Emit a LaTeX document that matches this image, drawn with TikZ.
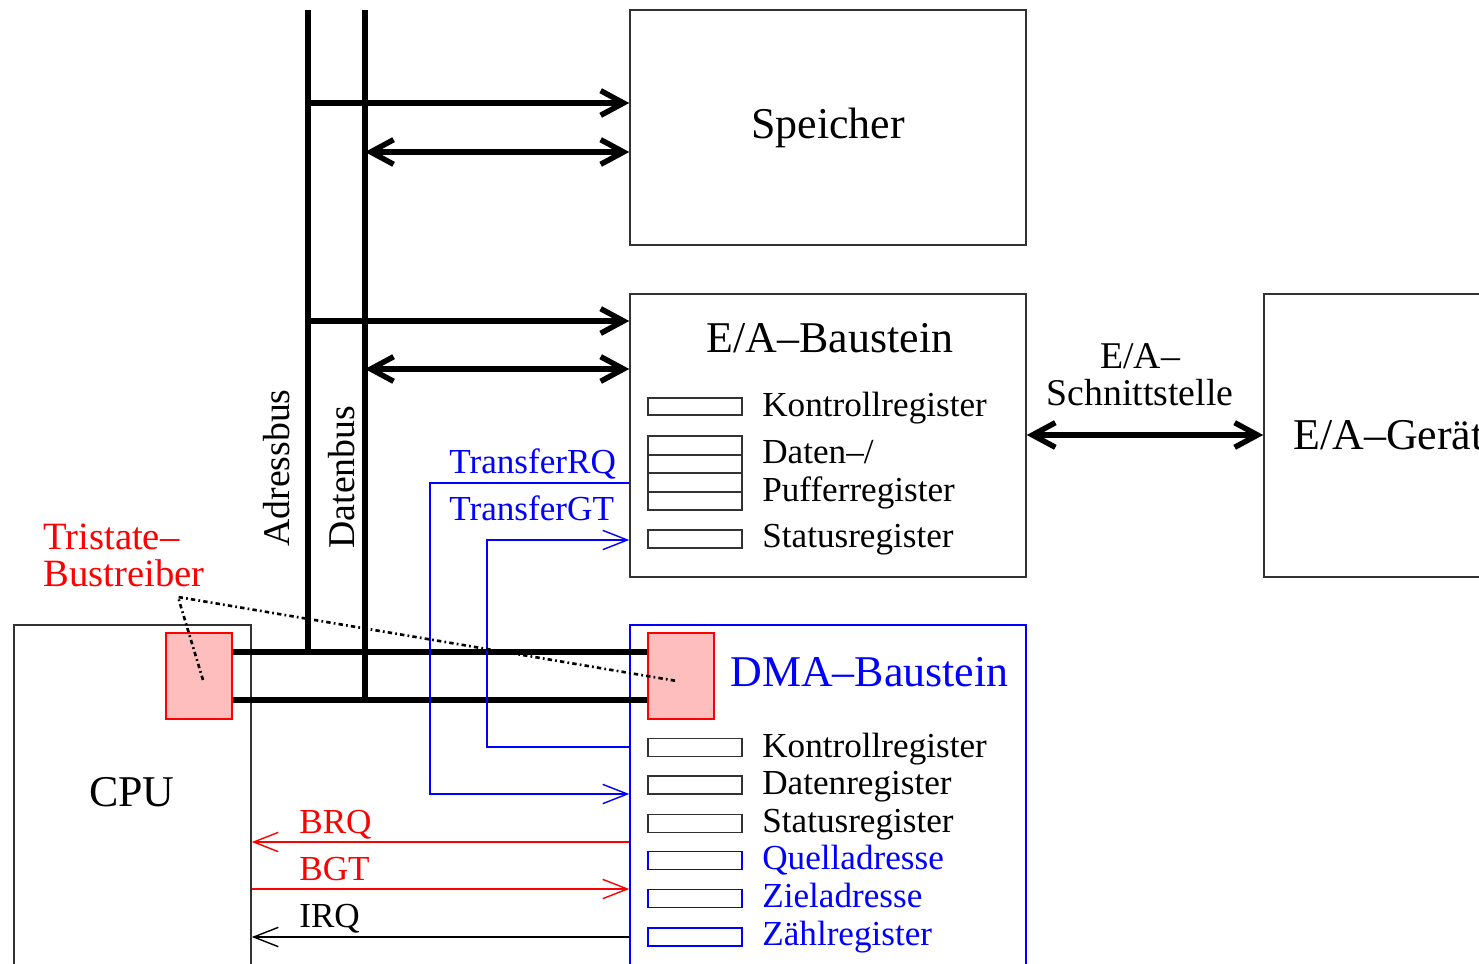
\documentclass[tikz,border=0pt]{standalone}
\usepackage{fontspec}
\setmainfont{Liberation Serif}
\usetikzlibrary{arrows.meta}
\definecolor{pinkfill}{RGB}{255,190,190}
\definecolor{boxline}{RGB}{50,50,50}
\begin{document}
\begin{tikzpicture}[x=0.02cm,y=-0.02cm,
  box/.style={draw=boxline, line width=0.9pt, rectangle, inner sep=0pt},
  bigfont/.style={font=\fontsize{25}{30}\selectfont},
  title/.style={bigfont, inner sep=0pt},
  lbl/.style={font=\fontsize{21.5}{22}\selectfont, inner sep=0pt},
  siglbl/.style={font=\fontsize{20}{22}\selectfont, inner sep=0pt, anchor=base west},
  reglbl/.style={font=\fontsize{20}{22}\selectfont, inner sep=0pt, anchor=base west},
  reg/.style={draw=boxline, line width=1.1pt, rectangle, inner sep=0pt, minimum width=1.88cm, minimum height=0.36cm},
  bluereg/.style={reg, draw=blue},
  tristate/.style={draw=red, fill=pinkfill, line width=0.8pt, rectangle, inner sep=0pt, minimum width=1.32cm, minimum height=1.72cm},
  bus/.style={line width=3.1pt},
  bigtip/.tip={Straight Barb[length=13pt,width=14pt]},
  smalltip/.tip={Straight Barb[length=14pt,width=11pt]},
  sig/.style={line width=0.8pt},
  dotline/.style={line width=1.5pt, dash pattern=on 2.5pt off 1.8pt on 1pt off 1.8pt}
]
\useasboundingbox (0,0) rectangle (1479,963);
\clip (0,0) rectangle (1479,963);

% boxes
\node[box, bigfont, minimum width=7.92cm, minimum height=4.7cm] (spe) at (828,127.5) {Speicher};
\node[box, minimum width=7.92cm, minimum height=5.66cm] (eab) at (828,435.5) {};
\node[title, anchor=base] (eabt) at (830,352) {E/A–Baustein};
\node[box, bigfont, minimum width=4.98cm, minimum height=5.66cm] (eag) at (1388.5,435.5) {E/A–Gerät};
\node[box, draw=blue, minimum width=7.92cm, minimum height=7.5cm] (dma) at (828,812.5) {};
\node[title, anchor=base west, text=blue] (dmat) at (730,686) {DMA–Baustein};
\node[box, minimum width=4.74cm, minimum height=7.5cm] (cpu) at (132.5,812.5) {};
\node[title, anchor=base] (cput) at (132,806) {CPU};

% tristate drivers
\node[tristate] (tri1) at (199,676) {};
\node[tristate] (tri2) at (681,676) {};

% buses
\coordinate (abtop) at (308,10);
\coordinate (dbtop) at (365,10);
\coordinate (ab) at (308,652);
\coordinate (db) at (365,700);
\draw[bus] (abtop) -- (ab);
\draw[bus] (dbtop) -- (db);
\draw[bus] (tri1.east |- ab) -- (tri2.west |- ab);
\draw[bus] (tri1.east |- db) -- (tri2.west |- db);
\node[lbl, rotate=90] (abl) at (277,468) {Adressbus};
\node[lbl, rotate=90] (dbl) at (342,477) {Datenbus};

\coordinate (a1) at (308,103);
\coordinate (d1) at (365,152);
\coordinate (a2) at (308,321);
\coordinate (d2) at (365,369);
\draw[bus, -{bigtip}] (a1) -- (a1 -| spe.west);
\draw[bus, {bigtip}-{bigtip}] (d1) -- (d1 -| spe.west);
\draw[bus, -{bigtip}] (a2) -- (a2 -| eab.west);
\draw[bus, {bigtip}-{bigtip}] (d2) -- (d2 -| eab.west);

% E/A interface
\coordinate (ea) at (1140,435);
\draw[bus, {bigtip}-{bigtip}] (ea -| eab.east) -- (ea -| eag.west);
\node[lbl, align=center] (eal) at (1140,375) {E/A–\\[-1pt]Schnittstelle};

% E/A registers
\node[reg, minimum height=0.34cm] (ek) at (695,406.5) {};
\node[reg, minimum height=1.48cm] (ed) at (695,473) {};
\foreach \yy in {455,473,492} \draw[line width=1.1pt, draw=boxline] (ed.west |- 0,\yy) -- (ed.east |- 0,\yy);
\node[reg] (es) at (695,539) {};
\node[reglbl] (ekl) at (762,416) {Kontrollregister};
\node[reglbl] (edl1) at (762,463) {Daten–/};
\node[reglbl] (edl2) at (762,501) {Pufferregister};
\node[reglbl] (esl) at (762,547) {Statusregister};

% DMA registers
\node[reg] (dk) at (695,747.5) {};
\node[reg] (dd) at (695,785) {};
\node[reg] (ds) at (695,823.5) {};
\node[bluereg] (dq) at (695,860.5) {};
\node[bluereg] (dz) at (695,898.5) {};
\node[bluereg] (dc) at (695,937) {};
\node[reglbl] (dkl) at (762,757) {Kontrollregister};
\node[reglbl] (ddl) at (762,794) {Datenregister};
\node[reglbl] (dsl) at (762,832) {Statusregister};
\node[reglbl, text=blue] (dql) at (762,869) {Quelladresse};
\node[reglbl, text=blue] (dzl) at (762,907) {Zieladresse};
\node[reglbl, text=blue] (dcl) at (762,945) {Zählregister};

% Transfer signals
\coordinate (rq1) at (430,483);
\coordinate (rq2) at (430,794);
\draw[sig, blue, -{smalltip}] (rq1 -| eab.west) -- (rq1) -- (rq2) -- (rq2 -| dma.west);
\coordinate (gt1) at (487,747);
\coordinate (gt2) at (487,540);
\draw[sig, blue, -{smalltip}] (gt1 -| dma.west) -- (gt1) -- (gt2) -- (gt2 -| eab.west);
\node[siglbl, text=blue] (rql) at (449,473) {TransferRQ};
\node[siglbl, text=blue] (gtl) at (449,520) {TransferGT};

% bus request signals
\coordinate (brq) at (440,842);
\coordinate (bgt) at (440,889);
\coordinate (irq) at (440,937);
\draw[sig, red, -{smalltip}] (brq -| dma.west) -- (brq -| cpu.east);
\draw[sig, red, -{smalltip}] (bgt -| cpu.east) -- (bgt -| dma.west);
\draw[sig, black, -{smalltip}] (irq -| dma.west) -- (irq -| cpu.east);
\node[siglbl, text=red] (brql) at (299,833) {BRQ};
\node[siglbl, text=red] (bgtl) at (299,880) {BGT};
\node[siglbl] (irql) at (299,927) {IRQ};

% Tristate label
\node[lbl, font=\fontsize{22}{22}\selectfont, align=left, text=red, anchor=west] (tsl) at (43,555) {Tristate–\\[-1pt]Bustreiber};
\coordinate (dtip) at (178,597);
\coordinate (dt1) at (203,680);
\coordinate (dt2) at (677,681);
\draw[dotline] (dt1) -- (dtip) -- (dt2);
\end{tikzpicture}
\end{document}
